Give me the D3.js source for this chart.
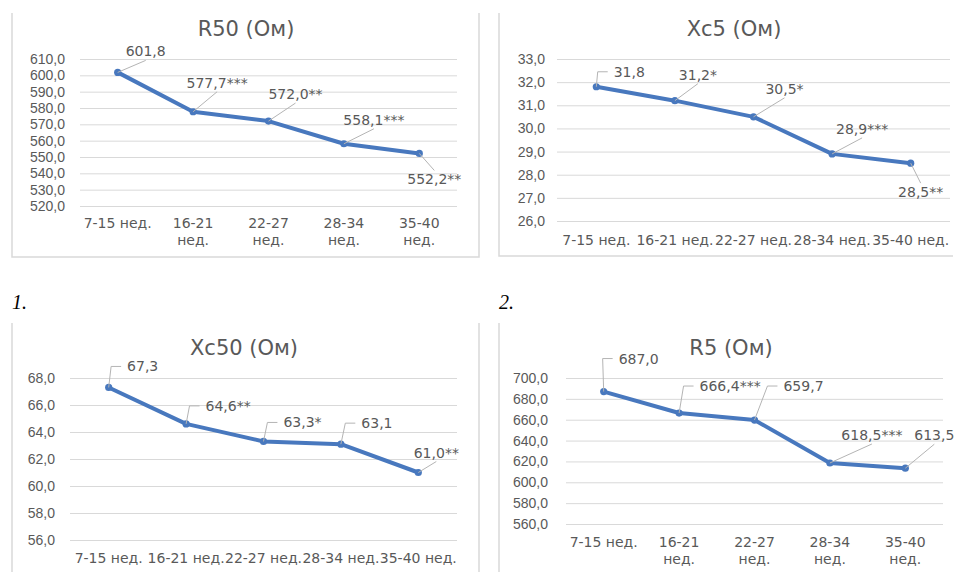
<!DOCTYPE html>
<html>
<head>
<meta charset="utf-8">
<script src="https://cdn.jsdelivr.net/npm/d3@7"></script>
<style>
  body { margin: 0; background: #fff; }
  svg { display: block; font-family: "DejaVu Sans", sans-serif; }
  .grid line { stroke: #d9d9d9; }
  .grid text { fill: #595959; font-size: 14px; }
  .xlab, .dlab { fill: #595959; font-size: 14px; }
  .title { fill: #595959; font-size: 21px; }
  .frame { fill: none; stroke: #d9d9d9; stroke-width: 1.5; }
  .leader { fill: none; stroke: #b4b4b4; stroke-width: 1; }
</style>
</head>
<body>
<svg id="chart" width="959" height="572"></svg>
<script>
/* Four impedance panels: R50, Xc5, Xc50, R5 by gestation period */

const weeks = ['7-15 нед.', '16-21 нед.', '22-27 нед.', '28-34 нед.', '35-40 нед.'];

const r50Values = [601.8, 577.7, 572.0, 558.1, 552.2];
const r50Marks = ['', '***', '**', '***', '**'];
const r50Ticks = [520, 530, 540, 550, 560, 570, 580, 590, 600, 610];

const xc5Values = [31.8, 31.2, 30.5, 28.9, 28.5];
const xc5Marks = ['', '*', '*', '***', '**'];
const xc5Ticks = [26, 27, 28, 29, 30, 31, 32, 33];

const xc50Values = [67.3, 64.6, 63.3, 63.1, 61.0];
const xc50Marks = ['', '**', '*', '', '**'];
const xc50Ticks = [56, 58, 60, 62, 64, 66, 68];

const r5Values = [687.0, 666.4, 659.7, 618.5, 613.5];
const r5Marks = ['', '***', '', '***', ''];
const r5Ticks = [560, 580, 600, 620, 640, 660, 680, 700];

const fmt = v => d3.format('.1f')(v).replace('.', ',');

const svg = d3.select('#chart');

// layout for each panel (label offsets are relative to the point)
const panels = [
  {
    title: 'R50 (Ом)', values: r50Values, marks: r50Marks, ticks: r50Ticks,
    left: 80, right: 457, top: 59, bottom: 206, tickPad: 15, wrap: true,
    titleX: 246, titleY: 36, labY: 228,
    frame: 'M12,13V257H479V13',
    labelPos: [[28, -16, 'b'], [24, -24, 'b'], [27, -22, 'b'], [30, -19, 'b'], [15, 31, 't']]
  },
  {
    title: 'Xc5 (Ом)', values: xc5Values, marks: xc5Marks, ticks: xc5Ticks,
    left: 557, right: 950, top: 59, bottom: 221, tickPad: 12, wrap: false,
    titleX: 734, titleY: 36, labY: 245,
    frame: 'M499,13V256H953',
    labelPos: [[33, -10, 'l'], [23, -21, 'b'], [31, -23, 'b'], [30, -20, 'b'], [10, 34, 't']]
  },
  {
    title: 'Xc50 (Ом)', values: xc50Values, marks: xc50Marks, ticks: xc50Ticks,
    left: 70, right: 457, top: 378, bottom: 540, tickPad: 15, wrap: false,
    titleX: 244, titleY: 355, labY: 563,
    frame: 'M12,323V572M479,323V572',
    labelPos: [[34, -16, 'l'], [42, -13, 'l'], [39, -14, 'l'], [36, -16, 'l'], [18, -15, 'b']]
  },
  {
    title: 'R5 (Ом)', values: r5Values, marks: r5Marks, ticks: r5Ticks,
    left: 566, right: 943, top: 378, bottom: 524, tickPad: 18, wrap: true,
    titleX: 731, titleY: 355, labY: 547,
    frame: 'M499,323V572',
    labelPos: [[35, -28, 'l'], [51, -22, 'l'], [49, -29, 'l'], [42, -23, 'b'], [29, -28, 'b']]
  }
];

function drawPanel(cfg) {
  const x = d3.scalePoint().domain(weeks).range([cfg.left, cfg.right]).padding(0.5);
  const y = d3.scaleLinear()
    .domain([cfg.ticks[0], cfg.ticks[cfg.ticks.length - 1]])
    .range([cfg.bottom, cfg.top]);

  const g = svg.append('g');

  g.append('path').attr('class', 'frame').attr('d', cfg.frame);

  g.append('text').attr('class', 'title')
    .attr('x', cfg.titleX).attr('y', cfg.titleY)
    .attr('text-anchor', 'middle')
    .text(cfg.title);

  // gridlines + y tick labels
  const grid = g.append('g').attr('class', 'grid')
    .attr('transform', `translate(${cfg.left},0)`)
    .call(d3.axisLeft(y).tickValues(cfg.ticks).tickFormat(fmt)
      .tickSize(-(cfg.right - cfg.left)).tickPadding(cfg.tickPad));
  grid.select('.domain').remove();
  grid.selectAll('text').attr('font-family', null).attr('font-size', null);

  // category labels
  const xl = g.selectAll('.xlab').data(weeks).enter().append('text')
    .attr('class', 'xlab')
    .attr('text-anchor', 'middle')
    .attr('y', cfg.labY);
  xl.each(function(d, i) {
    const t = d3.select(this);
    const lines = (cfg.wrap && i > 0) ? d.split(' ') : [d];
    lines.forEach((ln, k) => {
      t.append('tspan').attr('x', x(d)).attr('dy', k ? 17 : 0).text(ln);
    });
  });

  // line + markers
  const line = d3.line().x((d, i) => x(weeks[i])).y(d => y(d));
  g.append('path').datum(cfg.values)
    .attr('fill', 'none').attr('stroke', '#4878be')
    .attr('stroke-width', 4).attr('stroke-linejoin', 'round')
    .attr('d', line);

  g.selectAll('.dot').data(cfg.values).enter().append('circle')
    .attr('cx', (d, i) => x(weeks[i]))
    .attr('cy', d => y(d))
    .attr('r', 3.6)
    .attr('fill', '#4878be');

  // data labels with leader lines
  cfg.values.forEach((v, i) => {
    const px = x(weeks[i]), py = y(v);
    const [dx, dy, mode] = cfg.labelPos[i];
    const t = g.append('text').attr('class', 'dlab')
      .attr('x', px + dx).attr('y', py + dy)
      .attr('text-anchor', 'middle')
      .text(fmt(v) + cfg.marks[i]);
    const b = t.node().getBBox();
    const cx = b.x + b.width / 2, midY = b.y + b.height / 2;
    let d;
    if (mode === 'b') d = `M${px},${py}L${cx},${b.y + b.height + 1}`;
    else if (mode === 't') d = `M${px},${py}L${cx},${b.y - 1}`;
    else d = `M${px},${py}L${b.x - 16},${midY}L${b.x - 6},${midY}`;
    g.insert('path', 'text.dlab').attr('class', 'leader').attr('d', d);
  });
}

panels.forEach(drawPanel);

// panel numbers
svg.selectAll('.num').data(['1.', '2.']).enter().append('text')
  .attr('x', (d, i) => i ? 499 : 12)
  .attr('y', 309)
  .attr('font-family', '"Liberation Serif", serif')
  .attr('font-style', 'italic')
  .attr('font-size', 20)
  .attr('fill', '#000')
  .text(d => d);
</script>
</body>
</html>
